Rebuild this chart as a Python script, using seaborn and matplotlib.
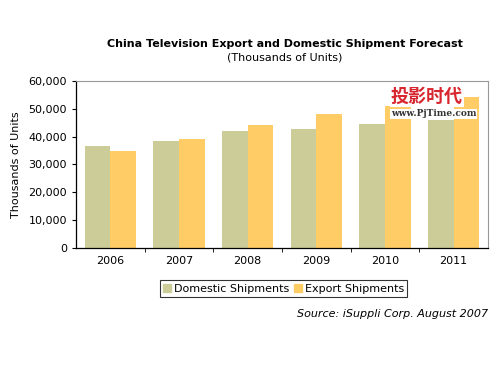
import pandas as pd
import numpy as np
import matplotlib.pyplot as plt
import seaborn as sns
from matplotlib.ticker import FuncFormatter, FixedLocator

# data
years = ['2006', '2007', '2008', '2009', '2010', '2011']
domestic = [36700, 38500, 42100, 42800, 44400, 46000]
export = [34900, 39200, 44200, 48200, 51000, 54300]
series = ['Domestic Shipments', 'Export Shipments']
colors = ['#CCCC99', '#FFCC66']

df = pd.DataFrame({
    'year': years * 2,
    'value': domestic + export,
    'series': [series[0]] * 6 + [series[1]] * 6,
})

sns.set_style('white')
plt.rcParams['font.family'] = ['DejaVu Sans', 'Noto Sans CJK SC']
plt.rcParams['text.color'] = 'black'
plt.rcParams['xtick.color'] = 'black'
plt.rcParams['ytick.color'] = 'black'
plt.rcParams['axes.labelcolor'] = 'black'

fig = plt.figure(figsize=(5, 3.75), dpi=100)
ax = fig.add_axes([0.152, 0.339, 0.824, 0.445])
sns.barplot(data=df, x='year', y='value', hue='series', palette=colors,
            width=0.75, saturation=1, linewidth=0, ax=ax, legend=False)

ax.set_xlim(-0.5, 5.5)
ax.set_ylim(0, 60000)
ax.set_yticks(range(0, 60001, 10000))
ax.yaxis.set_major_formatter(FuncFormatter(lambda v, p: f'{int(v):,}'))
ax.tick_params(axis='y', direction='out', length=3, labelsize=8, left=True)
ax.tick_params(axis='x', which='major', length=0, labelsize=8, pad=6)
ax.xaxis.set_minor_locator(FixedLocator(np.arange(0.5, 5.5, 1)))
ax.tick_params(axis='x', which='minor', direction='out', length=3, bottom=True)
ax.set_xlabel('')
ax.set_ylabel('Thousands of Units', fontsize=8, labelpad=5)
for s in ['left', 'bottom']:
    ax.spines[s].set_color('black')
    ax.spines[s].set_linewidth(0.9)
for s in ['top', 'right']:
    ax.spines[s].set_color('#999999')
    ax.spines[s].set_linewidth(0.8)

# titles
fig.text(0.57, 0.875, 'China Television Export and Domestic Shipment Forecast',
         ha='center', fontsize=8, fontweight='bold')
fig.text(0.57, 0.838, '(Thousands of Units)', ha='center', fontsize=8)

# legend
handles = [plt.Rectangle((0, 0), 1, 1, color=c) for c in colors]
leg = fig.legend(handles, series, loc='center', bbox_to_anchor=(0.567, 0.23),
                 ncol=2, fontsize=8, frameon=True, fancybox=False,
                 handlelength=0.7, handleheight=0.7, handletextpad=0.3,
                 columnspacing=0.4, borderpad=0.3, borderaxespad=0)
leg.get_frame().set_edgecolor('black')
leg.get_frame().set_linewidth(0.8)

fig.text(0.976, 0.155, 'Source: iSuppli Corp. August 2007', ha='right',
         fontsize=8, style='italic')

# watermark
fig.text(0.782, 0.728, '投影时代', ha='left', fontsize=13, fontweight='bold',
         color='#D8262E', family=['Noto Sans CJK SC', 'DejaVu Sans'],
         bbox=dict(facecolor='white', edgecolor='none', pad=0.5))
fig.text(0.782, 0.69, 'www.PjTime.com', ha='left', fontsize=6.5, fontweight='bold',
         color='#333333', family=['DejaVu Serif'],
         bbox=dict(facecolor='white', edgecolor='none', pad=0.5))

fig.savefig('out.png', dpi=100)
